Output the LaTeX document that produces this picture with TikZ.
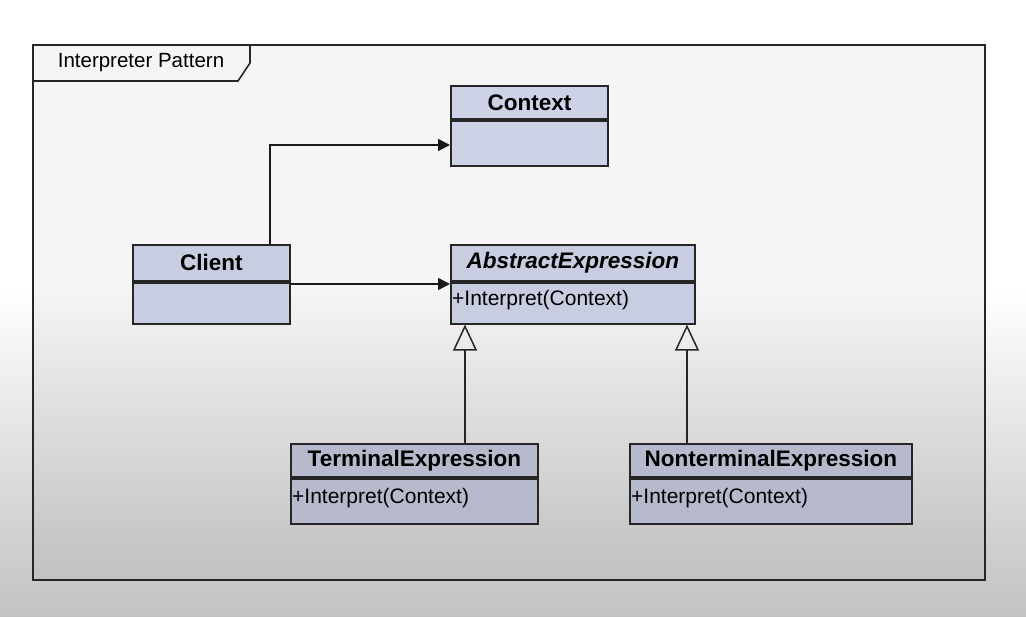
\documentclass[tikz,border=0pt]{standalone}
\usepackage{fontspec}
\setmainfont{Liberation Sans}
\usetikzlibrary{arrows.meta}
\definecolor{boxline}{HTML}{262626}
\definecolor{ctxfill}{HTML}{CDD2E7}
\definecolor{midfill}{HTML}{C8CDE1}
\definecolor{lowfill}{HTML}{B6BACC}
\definecolor{bggray}{HTML}{C2C2C2}
\tikzset{
  hdr/.style={draw=boxline, line width=1.8pt, inner sep=0pt, anchor=north west,
    font=\fontsize{22.5}{24}\selectfont\bfseries},
  bodybox/.style={draw=boxline, line width=1.8pt, inner sep=0pt, anchor=north west},
  meth/.style={inner sep=0pt, anchor=west, font=\fontsize{21}{24}\selectfont},
  assoc/.style={draw=black!90, line width=1.7pt, -{Triangle[length=12pt,width=12pt]}},
  inherit/.style={draw=boxline, line width=1.7pt, -{Triangle[open,length=26pt,width=24pt,line width=1.5pt]}},
}
\begin{document}
\begin{tikzpicture}[x=1pt,y=-1pt]
\useasboundingbox (0,0) rectangle (1026,617);
% background
\fill[white] (0,0) rectangle (1026,290);
\shade[top color=white, bottom color=bggray] (0,289) rectangle (1026,617);
% frame
\fill[black, fill opacity=0.04] (33,45) rectangle (985,580);
\draw[boxline, line width=2pt] (33,45) rectangle (985,580);
\draw[boxline, line width=1.6pt] (33,81) -- (238,81) -- (250,63) -- (250,45);
\node[font=\fontsize{20.5}{24}\selectfont, inner sep=0pt] (title) at (141,63) {Interpreter Pattern};
% Context
\node[hdr, fill=ctxfill, minimum width=157, minimum height=33] (ctx) at (450,85) {Context};
\node[bodybox, fill=ctxfill, minimum width=157, minimum height=45] (ctxb) at (ctx.south west) {};
% Client
\node[hdr, fill=midfill, minimum width=157, minimum height=36] (cli) at (132,244) {Client};
\node[bodybox, fill=midfill, minimum width=157, minimum height=41] (clib) at (cli.south west) {};
% AbstractExpression
\node[hdr, fill=midfill, minimum width=244, minimum height=36] (abs) at (450,244) {\itshape AbstractExpression};
\node[bodybox, fill=midfill, minimum width=244, minimum height=41] (absb) at (abs.south west) {};
\node[meth] (absm) at ([xshift=2pt,yshift=3pt]absb.west) {+Interpret(Context)};
% TerminalExpression
\node[hdr, fill=lowfill, minimum width=247, minimum height=33] (term) at (290,443) {TerminalExpression};
\node[bodybox, fill=lowfill, minimum width=247, minimum height=45] (termb) at (term.south west) {};
\node[meth] (termm) at ([xshift=2pt,yshift=3pt]termb.west) {+Interpret(Context)};
% NonterminalExpression
\node[hdr, fill=lowfill, minimum width=282, minimum height=33] (nont) at (629,443) {NonterminalExpression};
\node[bodybox, fill=lowfill, minimum width=282, minimum height=45] (nontb) at (nont.south west) {};
\node[meth] (nontm) at ([xshift=2pt,yshift=3pt]nontb.west) {+Interpret(Context)};
% connectors
\draw[assoc] (cli.north -| 270,0) |- (ctxb.west |- 0,145);
\draw[assoc] (clib.east |- 0,284) -- (absb.west |- 0,284);
\draw[inherit] (term.north -| 465,0) -- (absb.south -| 465,0);
\draw[inherit] (nont.north -| 687,0) -- (absb.south -| 687,0);
\end{tikzpicture}
\end{document}
